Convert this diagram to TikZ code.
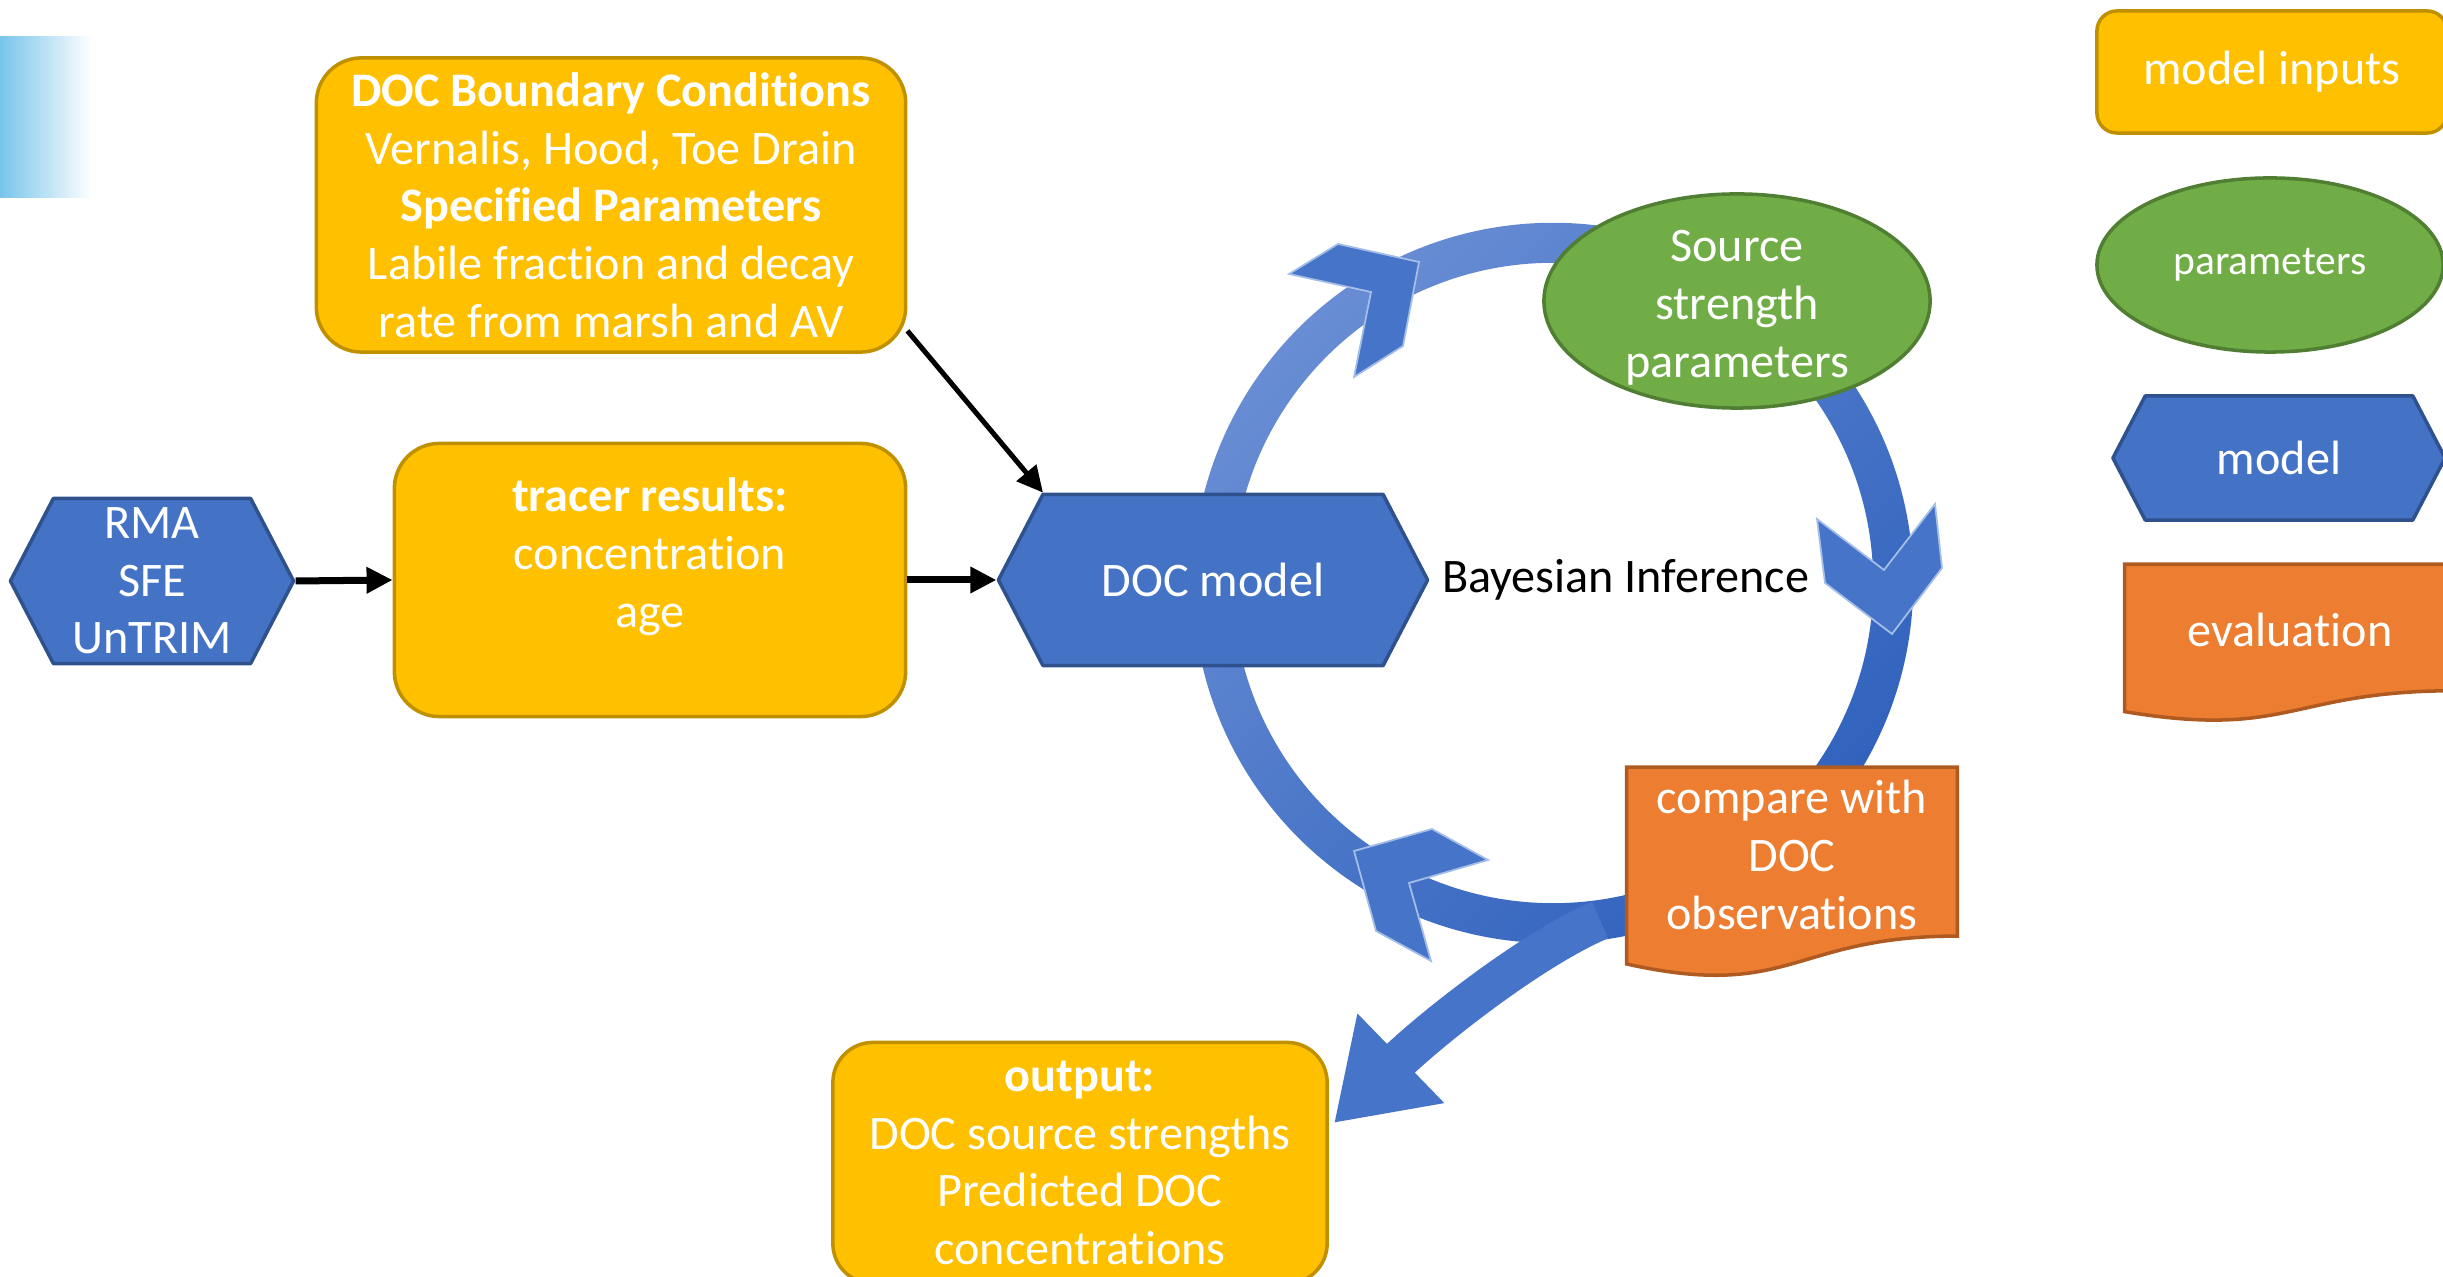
\documentclass[tikz,border=0pt]{standalone}
\usepackage{fontspec}
\setmainfont{Carlito}[Ligatures={NoCommon}]
\usetikzlibrary{arrows.meta,calc,positioning,shapes.geometric,shapes.symbols}
\definecolor{inputyellow}{RGB}{255,192,0}
\definecolor{inputedge}{RGB}{191,144,0}
\definecolor{modelblue}{RGB}{68,114,196}
\definecolor{modeledge}{RGB}{47,82,143}
\definecolor{paramgreen}{RGB}{112,173,71}
\definecolor{paramedge}{RGB}{80,126,50}
\definecolor{evalorange}{RGB}{237,125,49}
\definecolor{evaledge}{RGB}{174,90,33}
\definecolor{ringlight}{RGB}{104,141,212}
\definecolor{ringdark}{RGB}{48,98,189}
\definecolor{ringblue}{RGB}{70,116,200}
\definecolor{ringedge}{RGB}{165,190,232}
\definecolor{gradblue}{RGB}{120,196,234}

\pgfdeclarelayer{ring}
\pgfdeclarelayer{doc}
\pgfsetlayers{ring,doc,main}

% wavy-bottom document outline behind a named node
\newcommand\docoutline[1]{%
  \filldraw[doc edge] (#1.north west) -- (#1.north east)
    -- ($(#1.north east)!0.962!(#1.south east)$)
    .. controls ($(#1.north)!0.962!(#1.south)$) and ($(#1.north)!1.33!(#1.south)$)
    .. ($(#1.north west)!1.121!(#1.south west)$) -- cycle;}

\tikzset{
  every node/.style={font=\fontsize{13.7}{16.4}\selectfont},
  input box/.style={rectangle, rounded corners=0.45cm, draw=inputedge, fill=inputyellow,
    line width=1pt, text=white, align=center, inner sep=0pt},
  model hex/.style={signal, signal to=east and west, signal pointer angle=125,
    draw=modeledge, fill=modelblue, line width=1pt, text=white, align=center, inner sep=0pt},
  param oval/.style={ellipse, draw=paramedge, fill=paramgreen, line width=1pt,
    text=white, align=center, inner xsep=7pt, inner ysep=-4pt},
  eval doc/.style={rectangle, text=white, align=center, inner sep=0pt},
  doc edge/.style={draw=evaledge, fill=evalorange, line width=1pt},
  link/.style={line width=0.07cm, line cap=butt, -{Triangle[length=0.26cm, width=0.25cm]}},
  ring shade/.style={top color=ringlight, bottom color=ringdark, shading angle=45},
  chevron/.style={fill=ringblue, draw=ringedge, line width=0.5pt},
  out flow/.style={draw=ringblue, line width=0.4cm, line cap=butt,
    -{Triangle[length=0.93cm, width=1.18cm]}}
}

\begin{document}
\begin{tikzpicture}[x=0.01cm,y=-0.01cm,line join=round]
  \useasboundingbox (0,0) rectangle (2443,1277);

  \shade[left color=gradblue, right color=white] (0,37) rectangle (92,198);

  % inputs and model
  \node[input box, minimum width=5.89cm, minimum height=2.94cm] (bc) at (611,205)
    {\textbf{DOC Boundary Conditions}\\Vernalis, Hood, Toe Drain\\\textbf{Specified Parameters}\\Labile fraction and decay\\rate from marsh and AV};
  \node[model hex, minimum width=2.83cm, minimum height=1.65cm] (hydro) at (152,581) {RMA\\SFE\\UnTRIM};
  \node[input box, minimum width=5.11cm, minimum height=2.73cm] (tracer) at (650,580)
    {\textbf{tracer results:}\\concentration\\age\\[-0.2cm]\strut};
  \node[model hex, minimum width=4.29cm, minimum height=1.71cm] (doc) at (1213,580) {DOC model};
  \node[right=0pt of doc] (bayes) {Bayesian Inference};

  \node[param oval, minimum width=3.84cm, minimum height=2.14cm] (src) at (1737,301)
    {\rule{0pt}{0.45cm}Source\\strength\\parameters};
  \node[eval doc, minimum width=3.29cm, minimum height=1.74cm] (cmp) at (1792,855)
    {compare with\\DOC\\observations};
  \node[input box, rounded corners=0.4cm, minimum width=4.94cm, minimum height=2.41cm] (out) at (1080,1163)
    {\textbf{output:}\\DOC source strengths\\Predicted DOC\\concentrations};

  \draw[link] (hydro.east) -- (tracer.west);
  \draw[link] (tracer.east) -- (doc.west);
  \draw[link, line width=0.05cm] (bc.-23) -- ($(doc.north)+(-170,0)$);

  % legend
  \node[input box, rounded corners=0.2cm, minimum width=3.5cm, minimum height=1.22cm] (leginput) at (2272,72) {model inputs};
  \node[param oval, minimum width=3.46cm, minimum height=1.74cm, font=\fontsize{11.8}{14}\selectfont] (legparam) at (2270,265) {parameters};
  \node[model hex, minimum width=3.32cm, minimum height=1.24cm] (legmodel) at (2279,458) {model};
  \node[eval doc, minimum width=3.29cm, minimum height=1.3cm] (legeval) at (2290,630) {evaluation};

  \begin{pgfonlayer}{doc}
    \docoutline{cmp}
    \docoutline{legeval}
  \end{pgfonlayer}

  % inference cycle
  \begin{pgfonlayer}{ring}
    \coordinate (cyc) at (1553,583);
    \shade[ring shade, even odd rule] (cyc) circle[radius=3.6cm] (cyc) circle[radius=3.2cm];
    \filldraw[chevron] (1289,274) -- (1338,244) -- (1419,262) -- (1403,346) -- (1354,377) -- (1371,292) -- cycle;
    \filldraw[chevron] (1817,519) -- (1884,570) -- (1935,504) -- (1942,568) -- (1892,634) -- (1825,583) -- cycle;
    \filldraw[chevron] (1354,851) -- (1432,829) -- (1488,860) -- (1409,883) -- (1431,961) -- (1376,931) -- cycle;
    \coordinate (fork) at (1600,920);
    \coordinate (outtip) at (1334,1123);
    \draw[out flow] (fork) .. controls (1530,950) and (1430,1030) .. (outtip);
  \end{pgfonlayer}
\end{tikzpicture}
\end{document}
